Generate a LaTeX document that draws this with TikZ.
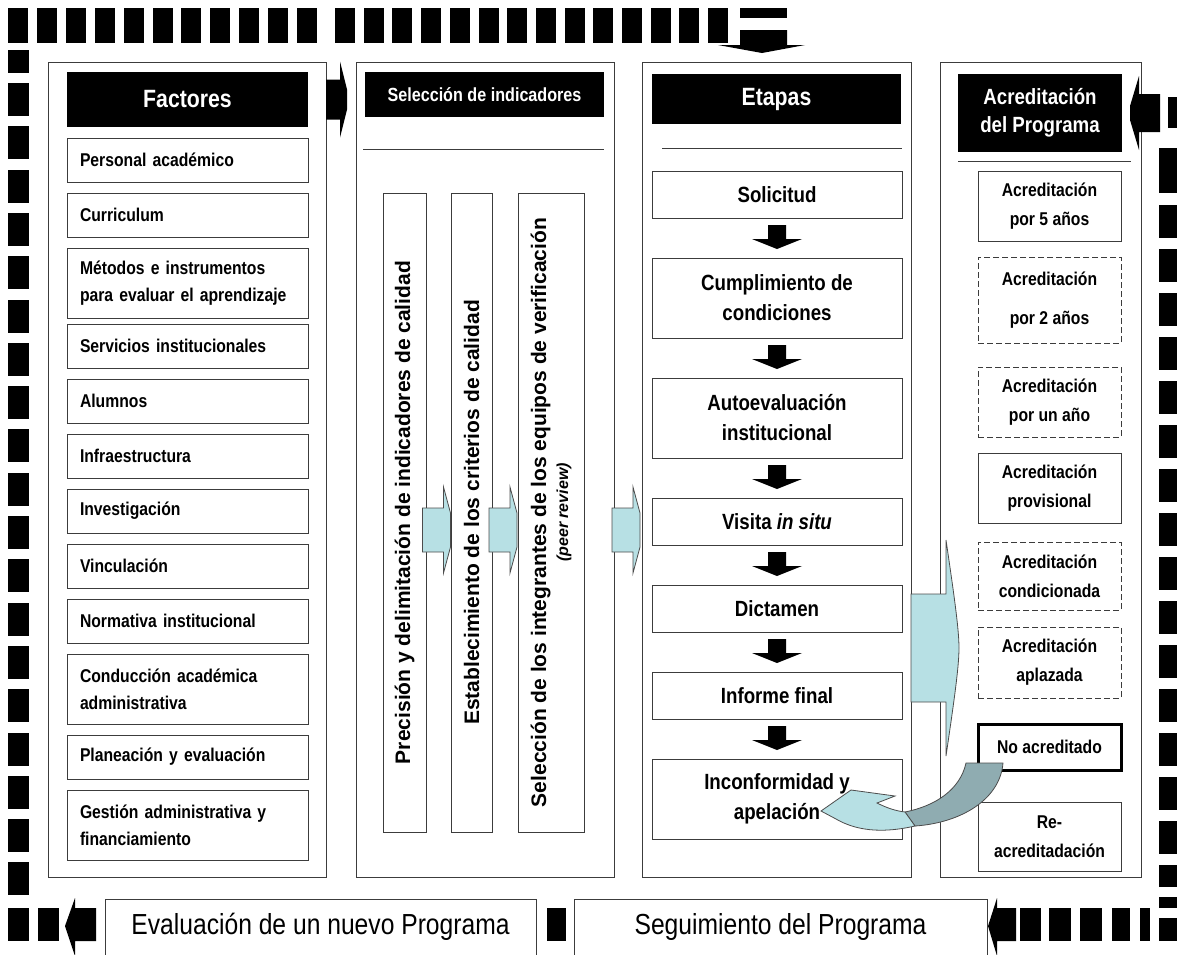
\documentclass[tikz,border=0pt]{standalone}
\usepackage{fontspec}
\setmainfont{Liberation Sans}[FakeStretch=0.85]
\newfontfamily\widefont{Liberation Sans}
\usetikzlibrary{positioning, calc}
\definecolor{arrowblue}{RGB}{183,224,228}
\definecolor{arrowgray}{RGB}{143,172,177}
\definecolor{linegray}{RGB}{60,60,60}
\tikzset{
    every node/.style={outer sep=0pt},
    panel/.style={draw=linegray, line width=0.8pt, anchor=north west, minimum height=815pt}, % the four columns
    headbox/.style={fill=black, text=white, anchor=north west, inner sep=0pt, align=center, font=\bfseries\fontsize{25}{28}\selectfont},
    sepline/.style={draw=linegray, line width=0.9pt},
    factor/.style={draw=linegray, line width=0.9pt, minimum width=241pt, minimum height=44pt, text width=215pt, inner xsep=13pt, align=left, font=\bfseries\fontsize{18.5}{27}\selectfont},
    etapa/.style={draw=linegray, line width=0.9pt, minimum width=250pt, minimum height=47pt, align=center, font=\bfseries\fontsize{22}{30}\selectfont},
    acred/.style={draw=linegray, line width=0.9pt, minimum width=143pt, minimum height=70pt, align=center, font=\bfseries\fontsize{18.5}{29}\selectfont},
    acreddash/.style={acred, dash pattern=on 6pt off 3pt},
    vbox/.style={draw=linegray, line width=0.9pt, anchor=north west, minimum height=639pt},
    vtext/.style={rotate=90, align=center, font=\widefont\bfseries\fontsize{21}{25}\selectfont},
    bottombox/.style={draw=linegray, line width=0.9pt, anchor=north west, minimum height=56pt, font=\fontsize{29}{32}\selectfont},
    arrowedge/.style={draw=black!70, line width=0.8pt},
    % block arrows
    bluearr/.pic={\draw[arrowedge, fill=arrowblue] (-16,-22) -- (5,-22) -- (5,-43) -- (12,-17) -- (12,17) -- (5,43) -- (5,22) -- (-16,22) -- cycle;},
    blkright/.pic={\fill (-15,-20) -- (-1,-20) -- (-1,-38) -- (6,-10) -- (6,10) -- (-1,38) -- (-1,20) -- (-15,20) -- cycle;},
    blkleft/.pic={\fill (19,-19) -- (-2,-19) -- (-2,-37) -- (-11,-7) -- (-11,7) -- (-2,37) -- (-2,19) -- (19,19) -- cycle;},
    downarr/.pic={\fill (-9,-13) -- (9,-13) -- (9,1) -- (25,1) -- (0,11) -- (-25,1) -- (-9,1) -- cycle;},
    bigarr/.pic={\draw[arrowedge, fill=arrowblue] (0,-54) -- (35,-54) -- (35,-108) .. controls (42,-60) and (48,-20) .. (48,0) .. controls (48,20) and (42,60) .. (35,108) -- (35,54) -- (0,54) -- cycle;},
}

\begin{document}
\begin{tikzpicture}[x=1pt, y=-1pt, node distance=11pt]
    \useasboundingbox (0,0) rectangle (1177,954);

    % dashed frame
    \foreach \i in {0,...,10} \fill (8+28.9*\i,8) rectangle ++(20,35);
    \foreach \i in {0,...,13} \fill (335+28.7*\i,8) rectangle ++(20,35);
    \fill (740,8) rectangle (787,18);
    \fill (740,30) -- (787,30) -- (787,45) -- (805,45) -- (762,53) -- (718,45) -- (740,45) -- cycle;
    \fill (8,50) rectangle (29,73);
    \foreach \i in {0,...,18} \fill (8,83+43.3*\i) rectangle ++(21,33);
    \fill (8,908) rectangle (29,941);
    \fill (38,908) rectangle (59,941);
    \fill (96,908) -- (75,908) -- (75,898) -- (65,926) -- (75,956) -- (75,941) -- (96,941) -- cycle;
    \fill (547,908) rectangle (566,941);
    \fill (1016,908) -- (997,908) -- (997,898) -- (988,926) -- (997,956) -- (997,941) -- (1016,941) -- cycle;
    \foreach \a/\b in {1020/1041, 1049/1071, 1080/1102, 1112/1130, 1140/1150}
        \fill (\a,908) rectangle (\b,941);
    \fill (1159,148) rectangle (1177,193);
    \foreach \i in {0,...,14} \fill (1159,205+44*\i) rectangle ++(18,33);
    \fill (1159,865) rectangle (1177,887);
    \fill (1159,897) rectangle (1177,908);
    \fill (1159,918) rectangle (1177,941);
    \fill (1168,97) rectangle (1177,128);

    % columns
    \node[panel, minimum width=278pt] (p1) at (48,62) {};
    \node[panel, minimum width=258pt] (p2) at (356,62) {};
    \node[panel, minimum width=269pt] (p3) at (642,62) {};
    \node[panel, minimum width=201pt] (p4) at (940,62) {};

    \node[headbox, minimum width=241pt, minimum height=55pt] (h1) at (67,72) {Factores};
    \node[headbox, minimum width=239pt, minimum height=45pt, font=\bfseries\fontsize{19}{22}\selectfont] (h2) at (365,72) {Selección de indicadores};
    \node[headbox, minimum width=249pt, minimum height=50pt] (h3) at (652,74) {Etapas};
    \node[headbox, minimum width=164pt, minimum height=78pt, font=\bfseries\fontsize{22}{28}\selectfont] (h4) at (958,74) {Acreditación\\del Programa};

    \draw[sepline] (363,149) -- (604,149);
    \draw[sepline] (662,148) -- (902,148);
    \draw[sepline] (958,161) -- (1131,161);

    % factores
    \node[factor, anchor=north west] (f1) at (67,138) {Personal académico};
    \node[factor, below=of f1] (f2) {Curriculum};
    \node[factor, below=of f2, minimum height=70pt] (f3) {Métodos e instrumentos\\para evaluar el aprendizaje};
    \node[factor, below=6pt of f3] (f4) {Servicios institucionales};
    \node[factor, below=of f4] (f5) {Alumnos};
    \node[factor, below=of f5] (f6) {Infraestructura};
    \node[factor, below=of f6] (f7) {Investigación};
    \node[factor, below=of f7] (f8) {Vinculación};
    \node[factor, below=of f8] (f9) {Normativa institucional};
    \node[factor, below=of f9, minimum height=70pt] (f10) {Conducción académica\\administrativa};
    \node[factor, below=of f10] (f11) {Planeación y evaluación};
    \node[factor, below=of f11, minimum height=70pt] (f12) {Gestión administrativa y\\financiamiento};

    % seleccion de indicadores
    \node[vbox, minimum width=43pt] (b1) at (383,193) {};
    \node[vbox, minimum width=41pt] (b2) at (451,193) {};
    \node[vbox, minimum width=66pt] (b3) at (518,193) {};
    \node[vtext] at (b1) {Precisión y delimitación de indicadores de calidad};
    \node[vtext] at (b2) {Establecimiento de los criterios de calidad};
    \node[vtext] at (b3) {Selección de los integrantes de los equipos de verificación\\[-3pt]{\fontsize{16}{18}\selectfont\itshape (peer review)}};

    % etapas
    \node[etapa, anchor=north west] (e1) at (652,171) {Solicitud};
    \node[etapa, below=40pt of e1, minimum height=80pt] (e2) {Cumplimiento de\\condiciones};
    \node[etapa, below=40pt of e2, minimum height=80pt] (e3) {Autoevaluación\\institucional};
    \node[etapa, below=40pt of e3] (e4) {Visita \textit{in situ}};
    \node[etapa, below=40pt of e4] (e5) {Dictamen};
    \node[etapa, below=40pt of e5] (e6) {Informe final};
    \node[etapa, below=40pt of e6, minimum height=80pt] (e7) {Inconformidad y\\apelación};

    % acreditacion
    \node[acred, anchor=north west] (a1) at (978,171) {Acreditación\\por 5 años};
    \node[acreddash, below=16pt of a1, minimum height=86pt] (a2) {Acreditación\\[10pt]por 2 años};
    \node[acreddash, below=24pt of a2] (a3) {Acreditación\\por un año};
    \node[acred, below=16pt of a3] (a4) {Acreditación\\provisional};
    \node[acreddash, below=19pt of a4, minimum height=68pt] (a5) {Acreditación\\condicionada};
    \node[acreddash, below=17pt of a5, minimum height=71pt] (a6) {Acreditación\\aplazada};
    \node[acred, below=26pt of a6, minimum height=46pt, line width=3pt, draw=black] (na) {No acreditado};
    \node[acred, below=32pt of na, minimum height=69pt] (a8) {Re-\\acreditadación};

    % seguimiento
    \node[bottombox, minimum width=431pt] (ev) at (105,899) {Evaluación de un nuevo Programa};
    \node[bottombox, minimum width=413pt] (seg) at (574,899) {Seguimiento del Programa};

    % arrows
    \pic at ($(p1.east |- h1.center)!.5!(p2.west |- h1.center)$) {blkright};
    \pic at (p4.east |- h4.center) {blkleft};
    \pic at ($(b1.east)!.5!(b2.west) + (0,17.5)$) {bluearr};
    \pic at ($(b2.east)!.5!(b3.west) + (0,17.5)$) {bluearr};
    \pic at ($(p2.east)!.5!(p3.west) + (0,60.5)$) {bluearr};
    \foreach \a/\b in {e1/e2, e2/e3, e3/e4, e4/e5, e5/e6, e6/e7}
        \pic at ($(\a.south)!.5!(\b.north)$) {downarr};
    \pic at ($(p3.east) + (0,178.5)$) {bigarr};

    % no acreditado back to inconformidad
    \begin{scope}[shift={(na.south west)}]
        \draw[arrowedge, fill=arrowgray] (-12,-7) -- (25,-7) .. controls (22,30) and (-18,53) .. (-63,56) -- (-73,42) .. controls (-43,36) and (-18,20) .. (-12,-7) -- cycle;
        \draw[arrowedge, fill=arrowblue] (-73,42) -- (-63,56) .. controls (-98,64) and (-123,60) .. (-142,49) -- (-157,41) -- (-127,20) -- (-83,26) -- (-101,33) .. controls (-91,38) and (-82,41) .. (-73,42) -- cycle;
    \end{scope}
\end{tikzpicture}
\end{document}
